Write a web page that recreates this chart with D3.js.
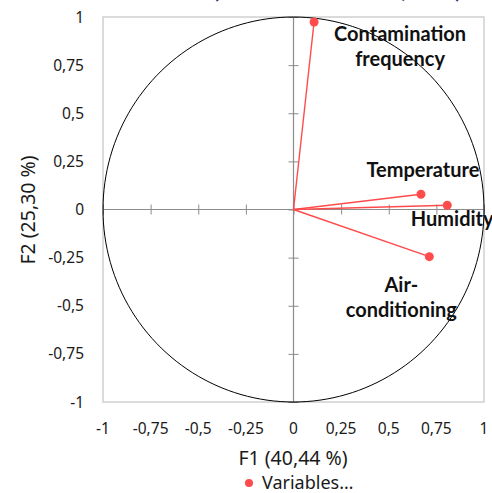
<!DOCTYPE html>
<html>
<head>
<meta charset="utf-8">
<script src="https://cdn.jsdelivr.net/npm/d3@7"></script>
<style>
  body { margin: 0; background: #fff; }
  svg { display: block; }
</style>
</head>
<body>
<script>
// chart data
var varNames = ["Contamination frequency", "Temperature", "Humidity", "Air-conditioning"];
var f1Values = [0.108, 0.669, 0.807, 0.713];
var f2Values = [0.974, 0.079, 0.022, -0.245];
var tickValues = [-1, -0.75, -0.5, -0.25, 0, 0.25, 0.5, 0.75, 1];
var chartTitle = "Variables (axes F1 and F2: 65,74 %)";
var xTitle = "F1 (40,44 %)";
var yTitle = "F2 (25,30 %)";
var legendLabel = "Variables…";

var width = 492, height = 493;
var red = "#ff4b4b";

var svg = d3.select("body").append("svg")
  .attr("width", width)
  .attr("height", height);

var x = d3.scaleLinear().domain([-1, 1]).range([103, 484]);
var y = d3.scaleLinear().domain([-1, 1]).range([402, 17]);

// title, mostly cut off at the top of the picture
svg.append("text")
  .attr("x", 290).attr("y", -2)
  .attr("text-anchor", "middle")
  .attr("font-family", "Lato, sans-serif")
  .attr("font-weight", "bold")
  .attr("font-size", 22)
  .attr("fill", "#1f3a6e")
  .text(chartTitle);

// plot border
svg.append("rect")
  .attr("x", x(-1)).attr("y", y(1))
  .attr("width", x(1) - x(-1))
  .attr("height", y(-1) - y(1))
  .attr("fill", "none")
  .attr("stroke", "#d0d0d0")
  .attr("stroke-width", 1.5);

// axes through the origin
var xAxis = d3.axisBottom(x).tickValues(tickValues).tickSize(10).tickFormat("");
var yAxis = d3.axisLeft(y).tickValues(tickValues).tickSize(10).tickFormat("");

svg.append("g")
  .attr("transform", "translate(0," + (y(0) - 5) + ")")
  .call(xAxis)
  .call(function(g) { g.select(".domain").remove(); })
  .selectAll("line").attr("stroke", "#8c8c8c");
svg.append("line")
  .attr("x1", x(-1)).attr("x2", x(1))
  .attr("y1", y(0)).attr("y2", y(0))
  .attr("stroke", "#8c8c8c").attr("stroke-width", 1.2);

svg.append("g")
  .attr("transform", "translate(" + (x(0) + 5) + ",0)")
  .call(yAxis)
  .call(function(g) { g.select(".domain").remove(); })
  .selectAll("line").attr("stroke", "#8c8c8c");
svg.append("line")
  .attr("x1", x(0)).attr("x2", x(0))
  .attr("y1", y(-1)).attr("y2", y(1))
  .attr("stroke", "#8c8c8c").attr("stroke-width", 1.2);

// tick labels
var fmt = function(v) { return String(v).replace(".", ","); };
svg.append("g").selectAll("text")
  .data(tickValues).enter().append("text")
  .attr("x", function(d) { return x(d); })
  .attr("y", 434)
  .attr("text-anchor", "middle")
  .attr("font-family", "'Noto Sans', sans-serif")
  .attr("font-size", 15.5)
  .attr("fill", "#1a1a1a")
  .text(fmt);

svg.append("g").selectAll("text")
  .data(tickValues).enter().append("text")
  .attr("x", 84)
  .attr("y", function(d) { return y(d) + 5.5; })
  .attr("text-anchor", "end")
  .attr("font-family", "'Noto Sans', sans-serif")
  .attr("font-size", 15.5)
  .attr("fill", "#1a1a1a")
  .text(fmt);

// correlation circle
var circle = d3.range(0, 361, 2).map(function(a) {
  var r = a * Math.PI / 180;
  return [Math.cos(r), Math.sin(r)];
});
svg.append("path")
  .datum(circle)
  .attr("d", d3.line().x(function(d) { return x(d[0]); }).y(function(d) { return y(d[1]); }))
  .attr("fill", "none")
  .attr("stroke", "#000")
  .attr("stroke-width", 1);

// vectors
var points = varNames.map(function(n, i) { return { name: n, f1: f1Values[i], f2: f2Values[i] }; });

svg.append("g").selectAll("line")
  .data(points).enter().append("line")
  .attr("x1", x(0)).attr("y1", y(0))
  .attr("x2", function(d) { return x(d.f1); })
  .attr("y2", function(d) { return y(d.f2); })
  .attr("stroke", red)
  .attr("stroke-width", 1.4);

svg.append("g").selectAll("circle")
  .data(points).enter().append("circle")
  .attr("cx", function(d) { return x(d.f1); })
  .attr("cy", function(d) { return y(d.f2); })
  .attr("r", 4.5)
  .attr("fill", red);

// point labels (offsets from the points)
var labelLines = [["Contamination", "frequency"], ["Temperature"], ["Humidity"], ["Air-", "conditioning"]];
var labelDx = [86, 2, 5, -28];
var labelDy = [19, -17, 21, 35];

var labels = svg.append("g").selectAll("text")
  .data(points).enter().append("text")
  .attr("x", function(d, i) { return x(d.f1) + labelDx[i]; })
  .attr("y", function(d, i) { return y(d.f2) + labelDy[i]; })
  .attr("text-anchor", "middle")
  .attr("font-family", "Lato, sans-serif")
  .attr("font-weight", "bold")
  .attr("font-size", 20)
  .attr("fill", "#111");

labels.each(function(d, i) {
  var t = d3.select(this);
  var cx = t.attr("x");
  labelLines[i].forEach(function(s, j) {
    t.append("tspan").attr("x", cx).attr("dy", j === 0 ? 0 : 25).text(s);
  });
});

// axis titles
svg.append("text")
  .attr("x", 293).attr("y", 465)
  .attr("text-anchor", "middle")
  .attr("font-family", "'Noto Sans', sans-serif")
  .attr("font-size", 19.5)
  .attr("fill", "#1a1a1a")
  .text(xTitle);

svg.append("text")
  .attr("transform", "translate(35,210) rotate(-90)")
  .attr("text-anchor", "middle")
  .attr("font-family", "'Noto Sans', sans-serif")
  .attr("font-size", 19.5)
  .attr("fill", "#1a1a1a")
  .text(yTitle);

// legend
svg.append("circle")
  .attr("cx", 249).attr("cy", 483).attr("r", 4)
  .attr("fill", red);
svg.append("text")
  .attr("x", 262).attr("y", 489)
  .attr("font-family", "'Noto Sans', sans-serif")
  .attr("font-size", 18)
  .attr("fill", "#1a1a1a")
  .text(legendLabel);
</script>
</body>
</html>
